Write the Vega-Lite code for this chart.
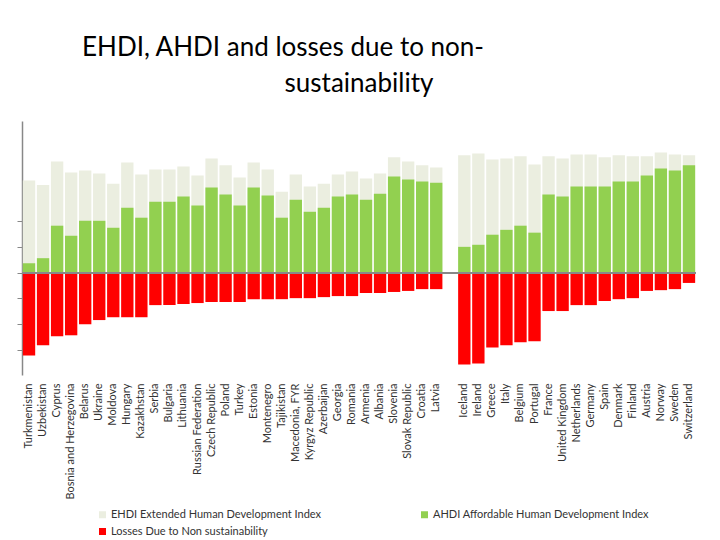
{
  "$schema": "https://vega.github.io/schema/vega-lite/v6.json",
  "autosize": "none",
  "width": 674,
  "height": 254,
  "padding": {"left": 22, "top": 121, "right": 24, "bottom": 165},
  "background": "white",
  "title": {
    "text": ["EHDI, AHDI and losses due to non-\u2800\u2800\u2800\u2800\u2800\u2800\u2800\u2800", "sustainability"],
    "anchor": "middle",
    "frame": "group",
    "font": "Lato",
    "fontSize": 26,
    "fontWeight": "normal",
    "color": "#000000",
    "lineHeight": 36,
    "baseline": "bottom",
    "offset": -2
  },
  "config": {
    "view": {"stroke": null},
    "font": "Lato"
  },
  "data": {
    "values": [
      {"country": "Turkmenistan", "ehdi": 0.357, "ahdi": 0.036, "loss": -0.321},
      {"country": "Uzbekistan", "ehdi": 0.340, "ahdi": 0.056, "loss": -0.282},
      {"country": "Cyprus", "ehdi": 0.431, "ahdi": 0.182, "loss": -0.247},
      {"country": "Bosnia and Herzegovina", "ehdi": 0.388, "ahdi": 0.143, "loss": -0.243},
      {"country": "Belarus", "ehdi": 0.396, "ahdi": 0.201, "loss": -0.200},
      {"country": "Ukraine", "ehdi": 0.384, "ahdi": 0.201, "loss": -0.184},
      {"country": "Moldova", "ehdi": 0.345, "ahdi": 0.174, "loss": -0.173},
      {"country": "Hungary", "ehdi": 0.427, "ahdi": 0.252, "loss": -0.173},
      {"country": "Kazakhstan", "ehdi": 0.381, "ahdi": 0.213, "loss": -0.173},
      {"country": "Serbia", "ehdi": 0.400, "ahdi": 0.275, "loss": -0.126},
      {"country": "Bulgaria", "ehdi": 0.400, "ahdi": 0.275, "loss": -0.126},
      {"country": "Lithuania", "ehdi": 0.412, "ahdi": 0.295, "loss": -0.122},
      {"country": "Russian Federation", "ehdi": 0.377, "ahdi": 0.260, "loss": -0.118},
      {"country": "Czech Republic", "ehdi": 0.443, "ahdi": 0.330, "loss": -0.114},
      {"country": "Poland", "ehdi": 0.416, "ahdi": 0.303, "loss": -0.114},
      {"country": "Turkey", "ehdi": 0.369, "ahdi": 0.260, "loss": -0.114},
      {"country": "Estonia", "ehdi": 0.427, "ahdi": 0.330, "loss": -0.103},
      {"country": "Montenegro", "ehdi": 0.400, "ahdi": 0.299, "loss": -0.103},
      {"country": "Tajikistan", "ehdi": 0.314, "ahdi": 0.213, "loss": -0.103},
      {"country": "Macedonia, FYR", "ehdi": 0.381, "ahdi": 0.283, "loss": -0.099},
      {"country": "Kyrgyz Republic", "ehdi": 0.334, "ahdi": 0.236, "loss": -0.099},
      {"country": "Azerbaijan", "ehdi": 0.345, "ahdi": 0.252, "loss": -0.095},
      {"country": "Georgia", "ehdi": 0.381, "ahdi": 0.295, "loss": -0.091},
      {"country": "Romania", "ehdi": 0.392, "ahdi": 0.303, "loss": -0.091},
      {"country": "Armenia", "ehdi": 0.365, "ahdi": 0.283, "loss": -0.079},
      {"country": "Albania", "ehdi": 0.384, "ahdi": 0.306, "loss": -0.079},
      {"country": "Slovenia", "ehdi": 0.447, "ahdi": 0.373, "loss": -0.075},
      {"country": "Slovak Republic", "ehdi": 0.431, "ahdi": 0.361, "loss": -0.071},
      {"country": "Croatia", "ehdi": 0.416, "ahdi": 0.353, "loss": -0.064},
      {"country": "Latvia", "ehdi": 0.408, "ahdi": 0.349, "loss": -0.064},
      {"country": "Iceland", "ehdi": 0.455, "ahdi": 0.100, "loss": -0.356},
      {"country": "Ireland", "ehdi": 0.462, "ahdi": 0.108, "loss": -0.352},
      {"country": "Greece", "ehdi": 0.439, "ahdi": 0.147, "loss": -0.290},
      {"country": "Italy", "ehdi": 0.443, "ahdi": 0.166, "loss": -0.282},
      {"country": "Belgium", "ehdi": 0.451, "ahdi": 0.182, "loss": -0.270},
      {"country": "Portugal", "ehdi": 0.419, "ahdi": 0.155, "loss": -0.266},
      {"country": "France", "ehdi": 0.451, "ahdi": 0.303, "loss": -0.149},
      {"country": "United Kingdom", "ehdi": 0.443, "ahdi": 0.295, "loss": -0.149},
      {"country": "Netherlands", "ehdi": 0.458, "ahdi": 0.334, "loss": -0.126},
      {"country": "Germany", "ehdi": 0.458, "ahdi": 0.334, "loss": -0.126},
      {"country": "Spain", "ehdi": 0.447, "ahdi": 0.334, "loss": -0.110},
      {"country": "Denmark", "ehdi": 0.455, "ahdi": 0.353, "loss": -0.103},
      {"country": "Finland", "ehdi": 0.451, "ahdi": 0.353, "loss": -0.099},
      {"country": "Austria", "ehdi": 0.451, "ahdi": 0.377, "loss": -0.071},
      {"country": "Norway", "ehdi": 0.466, "ahdi": 0.404, "loss": -0.068},
      {"country": "Sweden", "ehdi": 0.458, "ahdi": 0.396, "loss": -0.064},
      {"country": "Switzerland", "ehdi": 0.455, "ahdi": 0.416, "loss": -0.040}
    ]
  },
  "layer": [
    {
      "mark": {"type": "bar"},
      "encoding": {
        "x": {
          "field": "country", "type": "nominal", "sort": null, "title": null,
          "scale": {
            "domain": ["Turkmenistan","Uzbekistan","Cyprus","Bosnia and Herzegovina","Belarus","Ukraine","Moldova","Hungary","Kazakhstan","Serbia","Bulgaria","Lithuania","Russian Federation","Czech Republic","Poland","Turkey","Estonia","Montenegro","Tajikistan","Macedonia, FYR","Kyrgyz Republic","Azerbaijan","Georgia","Romania","Armenia","Albania","Slovenia","Slovak Republic","Croatia","Latvia"," ","Iceland","Ireland","Greece","Italy","Belgium","Portugal","France","United Kingdom","Netherlands","Germany","Spain","Denmark","Finland","Austria","Norway","Sweden","Switzerland"],
            "paddingInner": 0.12, "paddingOuter": 0.06
          },
          "axis": {
            "domain": false, "ticks": false, "labelAngle": -90,
            "labelAlign": "right", "labelBaseline": "middle", "labelPadding": 8,
            "labelFont": "Lato", "labelFontSize": 11, "labelColor": "#333333", "labelLimit": 200
          }
        },
        "y": {
          "field": "ehdi", "type": "quantitative", "title": null,
          "scale": {"domain": [-0.397, 0.588], "nice": false, "zero": true},
          "axis": {
            "labels": false, "grid": false,
            "values": [-0.3, -0.2, -0.1, 0, 0.1, 0.2],
            "domainColor": "#888888", "tickColor": "#888888", "tickSize": 5, "domainWidth": 1.5
          }
        },
        "color": {
          "datum": "EHDI Extended Human Development Index",
          "type": "nominal",
          "scale": {
            "domain": ["EHDI Extended Human Development Index", "AHDI Affordable Human Development Index", "Losses Due to Non sustainability"],
            "range": ["#EBEEE0", "#92D050", "#FF0000"]
          },
          "legend": {
            "title": null, "orient": "none", "legendX": 75, "legendY": 388,
            "direction": "horizontal",
            "columns": 2, "columnPadding": 97, "rowPadding": 5,
            "symbolType": "square", "symbolSize": 49, "symbolStrokeWidth": 0,
            "labelFont": "Lato", "labelFontSize": 11, "labelColor": "#333333", "labelOffset": 3, "labelLimit": 300
          }
        }
      }
    },
    {
      "mark": {"type": "bar"},
      "encoding": {
        "x": {"field": "country", "type": "nominal", "sort": null, "title": null},
        "y": {"field": "ahdi", "type": "quantitative", "title": null},
        "color": {"datum": "AHDI Affordable Human Development Index", "type": "nominal"}
      }
    },
    {
      "mark": {"type": "bar"},
      "encoding": {
        "x": {"field": "country", "type": "nominal", "sort": null, "title": null},
        "y": {"field": "loss", "type": "quantitative", "title": null},
        "color": {"datum": "Losses Due to Non sustainability", "type": "nominal"}
      }
    },
    {
      "mark": {"type": "rule", "color": "#888888", "strokeWidth": 1.5},
      "encoding": {"y": {"datum": 0}}
    }
  ]
}
